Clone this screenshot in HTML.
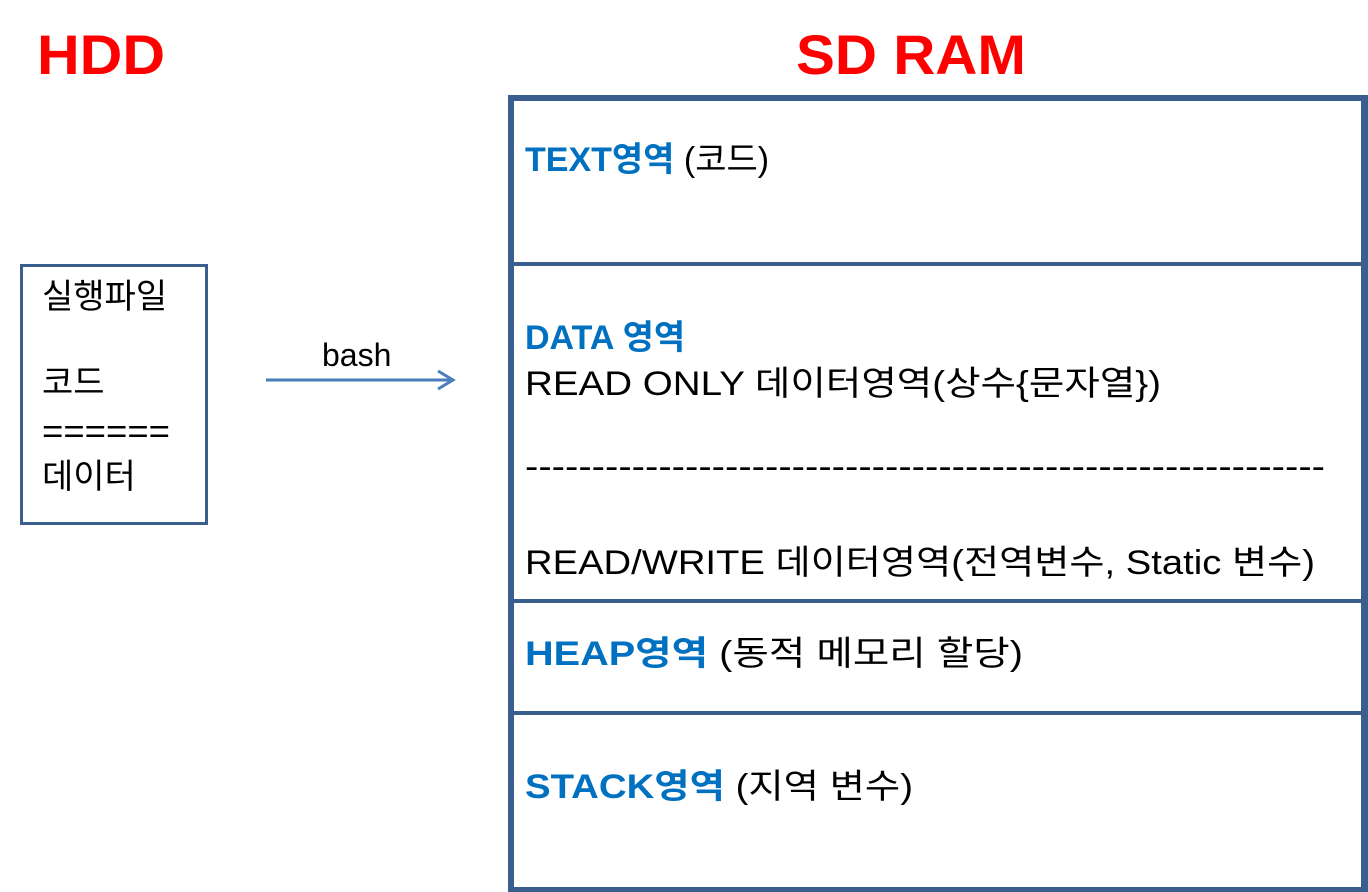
<!DOCTYPE html>
<html><head><meta charset="utf-8"><style>
html,body{margin:0;padding:0;background:#fff;width:1368px;height:892px;overflow:hidden}
svg text{font-family:"Liberation Sans","Noto Sans CJK KR","NanumGothic",sans-serif}
</style></head><body>
<svg width="1368" height="892" viewBox="0 0 1368 892" xmlns="http://www.w3.org/2000/svg">
<g fill="#3a5f8e">
<rect x="508" y="95" width="860" height="6"/>
<rect x="508" y="95" width="6" height="797"/>
<rect x="1361" y="95" width="7" height="797"/>
<rect x="508" y="887" width="860" height="5"/>
<rect x="508" y="262" width="860" height="4"/>
<rect x="508" y="599" width="860" height="4"/>
<rect x="508" y="711" width="860" height="4"/>
</g>
<rect x="21.5" y="265.5" width="185" height="258" fill="none" stroke="#3a5f8e" stroke-width="3"/>
<line x1="266" y1="380" x2="452" y2="380" stroke="#4a7ebb" stroke-width="3"/>
<polyline points="438,371 453,380 438,389" fill="none" stroke="#4a7ebb" stroke-width="3"/>
<text x="37" y="74" font-size="56" font-weight="bold" fill="#ff0000" textLength="128" lengthAdjust="spacingAndGlyphs">HDD</text>
<text x="796" y="74" font-size="56" font-weight="bold" fill="#ff0000" textLength="230" lengthAdjust="spacingAndGlyphs">SD RAM</text>
<g font-size="34" fill="#000">
<text x="42" y="308">실행파일</text>
<text x="42" y="394">코드</text>
<text x="42" y="443" textLength="128" lengthAdjust="spacingAndGlyphs">======</text>
<text x="42" y="488">데이터</text>
<text x="322" y="366" font-size="32">bash</text>
<text x="525" y="171"><tspan fill="#0070c0" font-weight="bold">TEXT영역</tspan> (코드)</text>
<text x="525" y="349" fill="#0070c0" font-weight="bold">DATA 영역</text>
<text x="525" y="395" textLength="636" lengthAdjust="spacingAndGlyphs">READ ONLY 데이터영역(상수{문자열})</text>
<text x="525" y="478" textLength="800" lengthAdjust="spacingAndGlyphs">------------------------------------------------------------</text>
<text x="525" y="574" textLength="790" lengthAdjust="spacingAndGlyphs">READ/WRITE 데이터영역(전역변수, Static 변수)</text>
<text x="525" y="665" textLength="498" lengthAdjust="spacingAndGlyphs"><tspan fill="#0070c0" font-weight="bold">HEAP영역</tspan> (동적 메모리 할당)</text>
<text x="525" y="798" textLength="388" lengthAdjust="spacingAndGlyphs"><tspan fill="#0070c0" font-weight="bold">STACK영역</tspan> (지역 변수)</text>
</g>
</svg>
</body></html>
